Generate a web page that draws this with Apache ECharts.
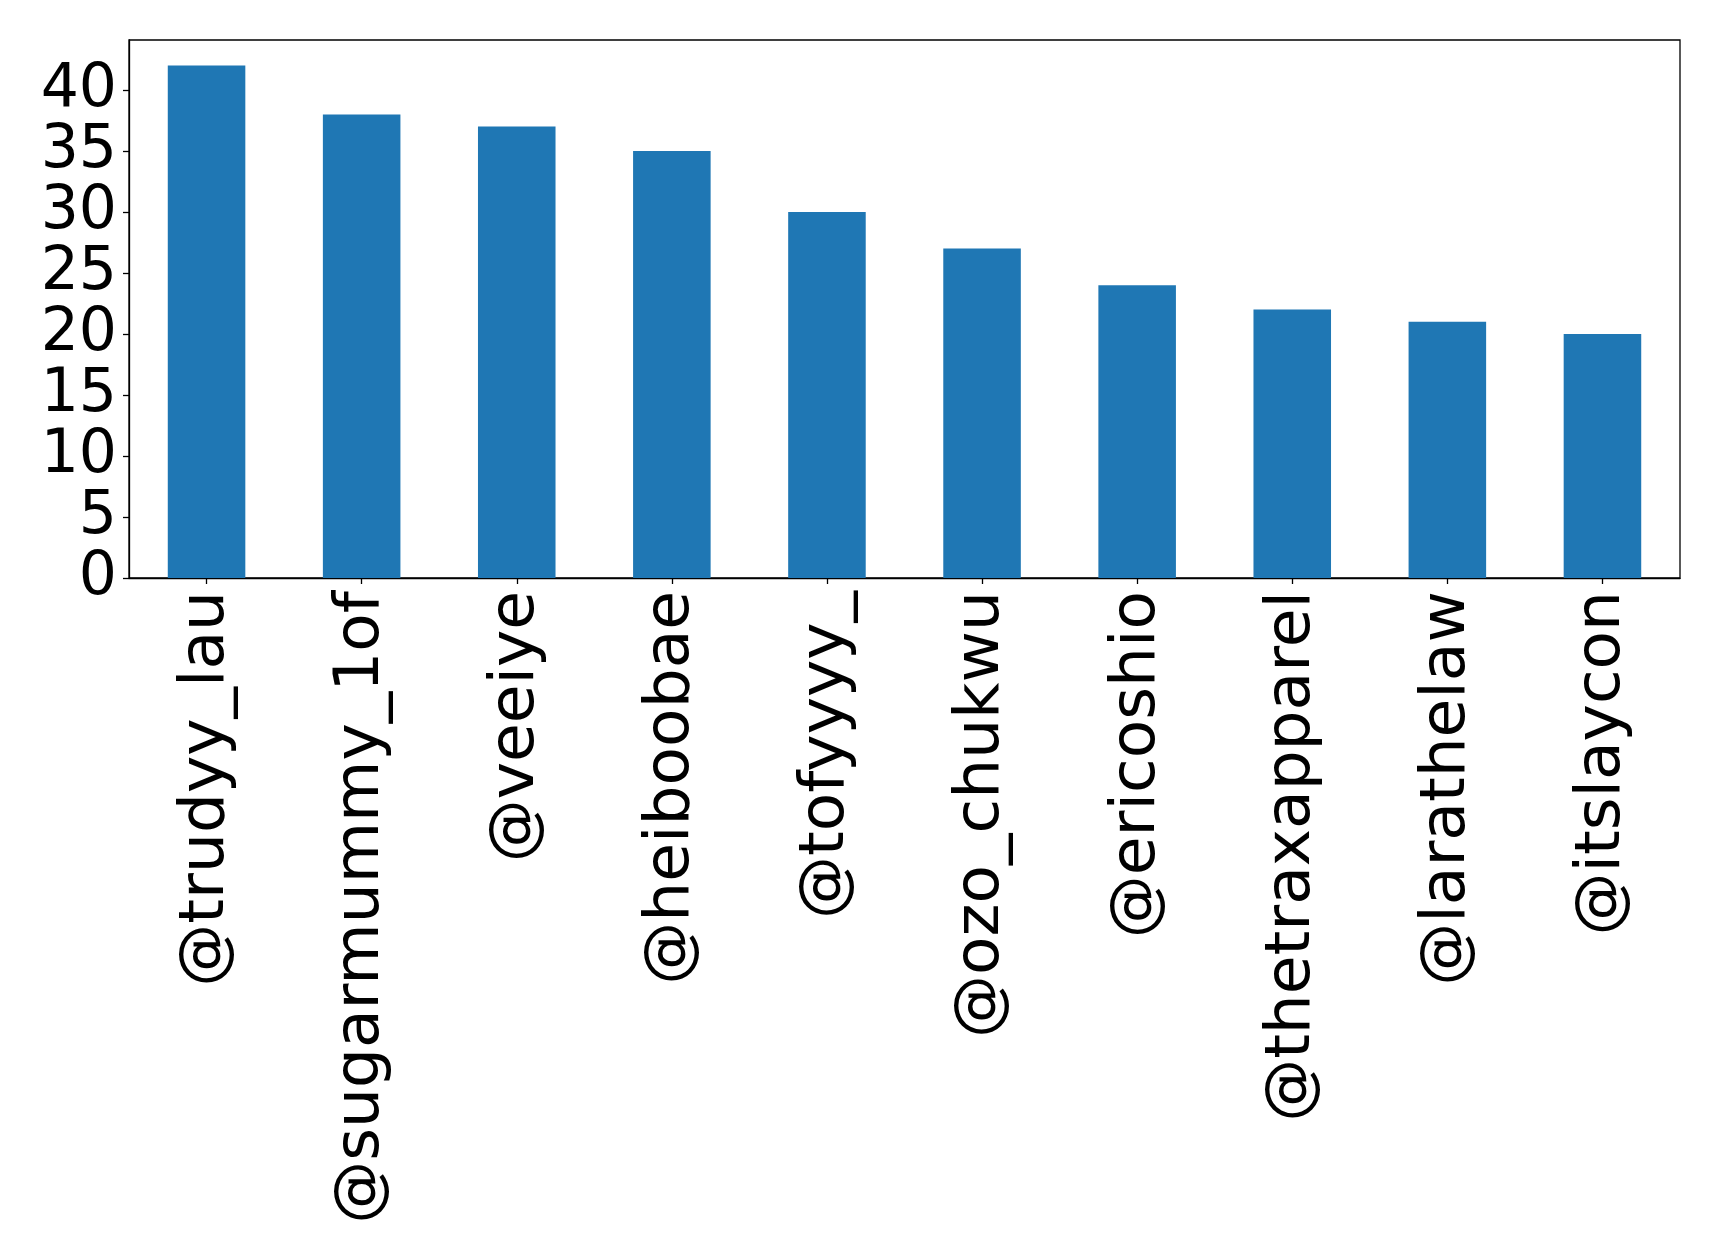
<!DOCTYPE html>
<html>
<head>
<meta charset="utf-8">
<script src="https://cdn.jsdelivr.net/npm/echarts@6/dist/echarts.min.js"></script>
<style>
html,body{margin:0;padding:0;background:#fff;}
#chart{width:1719px;height:1255px;}
</style>
</head>
<body>
<div id="chart"></div>
<script>
const categories = ["@trudyy_lau","@sugarmummy_1of","@veeiye","@heiboobae","@tofyyyy_","@ozo_chukwu","@ericoshio","@thetraxapparel","@larathelaw","@itslaycon"];
const values = [42, 38, 37, 35, 30, 27, 24, 22, 21, 20];
const yTicks = [0, 5, 10, 15, 20, 25, 30, 35, 40];

const chart = echarts.init(document.getElementById('chart'), null, {renderer: 'canvas'});
const font = 'DejaVu Sans';
chart.setOption({
  animation: false,
  backgroundColor: '#ffffff',
  grid: {
    left: 129, right: 39, top: 40, bottom: 677,
    show: true, borderColor: '#000', borderWidth: 1.3, backgroundColor: 'transparent'
  },
  xAxis: {
    type: 'category',
    data: categories,
    axisLine: {lineStyle: {color: '#000', width: 1.3}},
    axisTick: {show: true, alignWithLabel: true, length: 6, lineStyle: {color: '#000', width: 1.3}},
    axisLabel: {rotate: 90, fontFamily: font, fontSize: 63, color: '#000', margin: 13, interval: 0}
  },
  yAxis: {
    type: 'value',
    min: 0, max: 44.1, interval: 5,
    splitLine: {show: false},
    axisLine: {show: true, lineStyle: {color: '#000', width: 1.3}},
    axisTick: {show: true, length: 6, lineStyle: {color: '#000', width: 1.3}},
    axisLabel: {
      fontFamily: font, fontSize: 60, color: '#000', margin: 12,
      showMaxLabel: false,
      formatter: function (v) { return yTicks.indexOf(v) >= 0 ? String(v) : ''; }
    }
  },
  series: [{
    type: 'bar',
    data: values,
    barWidth: '50%',
    itemStyle: {color: '#1f77b4'}
  }]
});
</script>
</body>
</html>
